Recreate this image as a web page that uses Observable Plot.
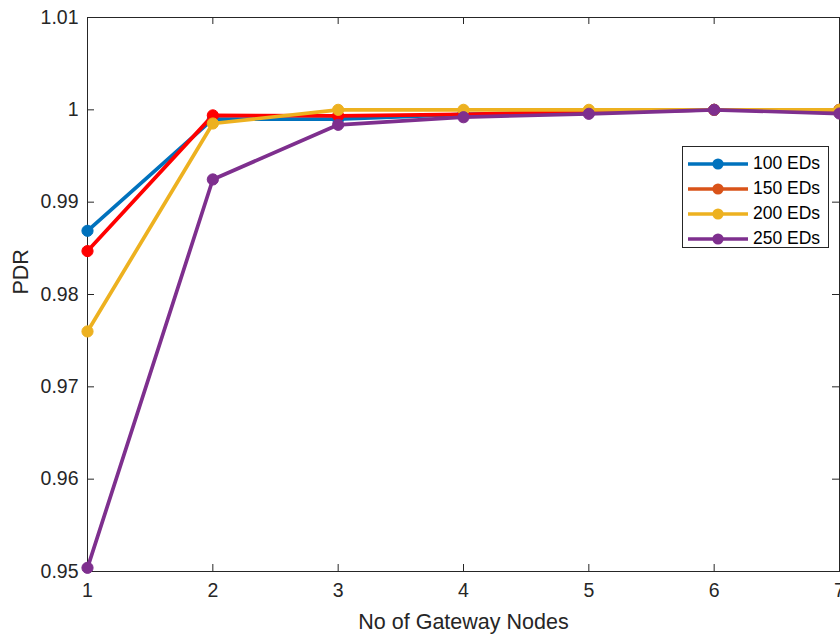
<!DOCTYPE html>
<html>
<head>
<meta charset="utf-8">
<script src="https://cdn.jsdelivr.net/npm/d3@7"></script>
<script src="https://cdn.jsdelivr.net/npm/@observablehq/plot@0.6"></script>
<style>
  html, body { margin: 0; padding: 0; background: #fff; }
  #wrap { position: relative; width: 840px; height: 634px; overflow: hidden; font-family: "Liberation Sans", Arial, Helvetica, sans-serif; }
  #legend { position: absolute; left: 682px; top: 146px; width: 147px; height: 102px; border: 1px solid #262626; background: #fff; box-sizing: border-box; }
  .row { position: absolute; left: 5px; height: 25px; display: flex; align-items: center; font-size: 17.5px; color: #000; }
  .row svg { margin-right: 5px; }
</style>
</head>
<body>
<div id="wrap"></div>
<script>
const gateways = [1, 2, 3, 4, 5, 6, 7];
const seriesNames = ["100 EDs", "150 EDs", "200 EDs", "250 EDs"];
const ed100 = [0.9869, 0.9990, 0.9990, 0.9995, 0.9998, 1.0000, 1.0000];
const ed150 = [0.9847, 0.9994, 0.99935, 0.9995, 0.9998, 1.0000, 1.0000];
const ed200 = [0.9760, 0.99852, 1.0000, 1.0000, 1.0000, 1.0000, 1.0000];
const ed250 = [0.9504, 0.99246, 0.99838, 0.9992, 0.99957, 1.0000, 0.9996];
const seriesValues = [ed100, ed150, ed200, ed250];
const lineColors = ["#0072BD", "#FF0000", "#EDB120", "#7E2F8E"];
const legendColors = ["#0072BD", "#D95319", "#EDB120", "#7E2F8E"];
const xTicks = [1, 2, 3, 4, 5, 6, 7];
const yTicks = [0.95, 0.96, 0.97, 0.98, 0.99, 1.00, 1.01];
const xLabel = "No of Gateway Nodes";
const yLabel = "PDR";

const W = 840, H = 634, mL = 87, mR = 1, mT = 17, mB = 63;
const innerW = W - mL - mR, innerH = H - mT - mB;
const axisColor = "#262626";
const tickLen = 7;

const rows = [];
seriesNames.forEach((s, i) => gateways.forEach((g, j) => rows.push({series: s, x: g, y: seriesValues[i][j]})));

const marks = [
  Plot.frame({stroke: axisColor, strokeWidth: 1}),
  Plot.tickX(xTicks, {x: d => d, insetTop: innerH - tickLen, stroke: axisColor}),
  Plot.tickX(xTicks, {x: d => d, insetBottom: innerH - tickLen, stroke: axisColor}),
  Plot.tickY(yTicks, {y: d => d, insetRight: innerW - tickLen, stroke: axisColor}),
  Plot.tickY(yTicks, {y: d => d, insetLeft: innerW - tickLen, stroke: axisColor}),
  Plot.axisX(xTicks, {anchor: "bottom", tickSize: 0, tickPadding: 12, fontSize: 19.5, fill: axisColor, label: null, tickFormat: d => String(d)}),
  Plot.axisY(yTicks, {anchor: "left", tickSize: 0, tickPadding: 9, fontSize: 19.5, fill: axisColor, label: null, tickFormat: d => String(+d.toFixed(2))}),
  Plot.text([xLabel], {frameAnchor: "bottom", dy: 51, fontSize: 21.5, fill: axisColor, lineAnchor: "middle"}),
  Plot.text([yLabel], {frameAnchor: "left", dx: -66, rotate: -90, fontSize: 21.5, fill: axisColor, lineAnchor: "middle"})
];
seriesNames.forEach((s, i) => {
  const d = rows.filter(r => r.series === s);
  marks.push(Plot.line(d, {x: "x", y: "y", stroke: lineColors[i], strokeWidth: 3.7, strokeLinejoin: "round"}));
  marks.push(Plot.dot(d, {x: "x", y: "y", r: 5.6, fill: lineColors[i], stroke: lineColors[i], strokeWidth: 1}));
});

const chart = Plot.plot({
  width: W, height: H,
  marginLeft: mL, marginRight: mR, marginTop: mT, marginBottom: mB,
  style: {fontFamily: '"Liberation Sans", Arial, Helvetica, sans-serif', background: "#fff", overflow: "hidden"},
  x: {domain: [1, 7]},
  y: {domain: [0.95, 1.01]},
  marks
});

const wrap = document.getElementById("wrap");
wrap.appendChild(chart);

const legend = document.createElement("div");
legend.id = "legend";
seriesNames.forEach((s, i) => {
  const row = document.createElement("div");
  row.className = "row";
  row.style.top = (4 + i * 25) + "px";
  row.innerHTML = `<svg width="60" height="14"><line x1="0" y1="7" x2="60" y2="7" stroke="${legendColors[i]}" stroke-width="3.7"/><circle cx="30" cy="7" r="5.6" fill="${legendColors[i]}"/></svg><span>${s}</span>`;
  legend.appendChild(row);
});
wrap.appendChild(legend);
</script>
</body>
</html>
